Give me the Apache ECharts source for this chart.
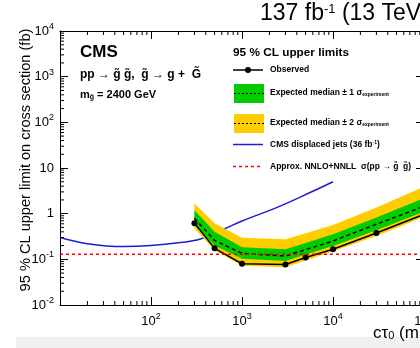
<!DOCTYPE html>
<html>
<head>
<meta charset="utf-8">
<script src="https://cdn.jsdelivr.net/npm/echarts@6/dist/echarts.min.js"></script>
<style>
  html, body { margin: 0; padding: 0; background: #fff; }
  #chart { width: 420px; height: 348px; }
</style>
</head>
<body>
<div id="chart"></div>
<script>
// limits vs proper decay length, m(gluino) = 2400 GeV
const ctau      = [300, 500, 1000, 3000, 5000, 10000, 30000, 100000];
const observed  = [0.62, 0.174, 0.080, 0.077, 0.110, 0.166, 0.377, 0.97];
const expected  = [0.79, 0.26, 0.135, 0.118, 0.163, 0.252, 0.586, 1.45];
const exp1Up    = [1.19, 0.40, 0.183, 0.166, 0.229, 0.353, 0.82, 2.2];
const exp1Down  = [0.56, 0.20, 0.103, 0.092, 0.127, 0.196, 0.432, 1.1];
const exp2Up    = [1.67, 0.62, 0.296, 0.275, 0.373, 0.565, 1.36, 3.9];
const exp2Down  = [0.48, 0.158, 0.072, 0.067, 0.094, 0.150, 0.324, 0.85];

// CMS displaced jets (36 fb-1)
const djCtau  = [10, 20, 50, 100, 200, 350, 620, 1000, 2400, 5600, 10000];
const djLimit = [0.30, 0.22, 0.19, 0.20, 0.23, 0.28, 0.45, 0.69, 1.36, 2.9, 5.0];

// theory cross section
const xsecCtau = [10, 100000];
const xsec     = [0.13, 0.13];

// axis ranges
const xMin = 10, xMax = 100000;
const yMin = 0.01, yMax = 10000;

const FONT = '"Liberation Sans", Arial, sans-serif';
const GREEN = '#00cc00';
const YELLOW = '#ffcc00';

// minor ticks 2..9 in every decade
function minors(lo, hi) {
  const out = [];
  for (let d = lo; d < hi; d *= 10) {
    for (let k = 2; k <= 9; k++) out.push(d * k);
  }
  return out;
}
const xMinor = minors(xMin, xMax);
const yMinor = minors(yMin, yMax);

function powLabel(v, hideTen) {
  const e = Math.round(Math.log10(v));
  if (e === 0) return '{b|1}';
  if (e === 1) return hideTen ? '' : '{b|10}';
  return '{b|10}{s|' + e + '}';
}
const labelRich = {
  b: { fontSize: 13, fontFamily: FONT, color: '#000', lineHeight: 18 },
  s: { fontSize: 9, fontFamily: FONT, color: '#000', lineHeight: 10, verticalAlign: 'top' }
};

const chart = echarts.init(document.getElementById('chart'));

function bandItem(up, down, color) {
  return function (params, api) {
    if (params.dataIndex !== 0) return;
    const pts = [];
    for (let i = 0; i < ctau.length; i++) pts.push(api.coord([ctau[i], up[i]]));
    for (let i = ctau.length - 1; i >= 0; i--) pts.push(api.coord([ctau[i], down[i]]));
    return { type: 'polygon', shape: { points: pts }, style: { fill: color } };
  };
}

function logAxis(pos, min, max) {
  return {
    type: 'log', logBase: 10, position: pos, min: min, max: max,
    axisLine: { show: true, lineStyle: { color: '#000', width: 1 } },
    axisTick: { show: true, inside: true, length: 8, lineStyle: { color: '#000' } },
    splitLine: { show: false },
    axisLabel: { show: false }
  };
}

const xBottom = logAxis('bottom', xMin, xMax);
xBottom.axisLabel = { show: true, margin: 7, formatter: v => powLabel(v, true), rich: labelRich };
const yLeft = logAxis('left', yMin, yMax);
yLeft.axisLabel = { show: true, margin: 6, formatter: v => powLabel(v, false), rich: labelRich };

const legendSub = { fontSize: 5, fontFamily: FONT, fontWeight: 'bold', fill: '#000', lineHeight: 5, verticalAlign: 'bottom' };

chart.setOption({
  animation: false,
  backgroundColor: '#fff',
  grid: { left: 60, top: 31, width: 364, height: 274, outerBoundsMode: 'none', containLabel: false },
  xAxis: [xBottom, logAxis('top', xMin, xMax)],
  yAxis: [yLeft, logAxis('right', yMin, yMax)],
  series: [
    {
      name: 'CMS displaced jets', type: 'line', smooth: 0.4,
      data: djCtau.map((x, i) => [x, djLimit[i]]),
      showSymbol: false, lineStyle: { color: '#1c1cd6', width: 1.5 }, z: 2
    },
    {
      type: 'custom', renderItem: bandItem(exp2Up, exp2Down, YELLOW),
      data: [[ctau[0], exp2Up[0]]], silent: true, z: 3
    },
    {
      type: 'custom', renderItem: bandItem(exp1Up, exp1Down, GREEN),
      data: [[ctau[0], exp1Up[0]]], silent: true, z: 4
    },
    {
      name: 'Expected', type: 'line', data: ctau.map((x, i) => [x, expected[i]]),
      showSymbol: false, lineStyle: { color: '#000', width: 1.5, type: [4, 3] }, z: 5
    },
    {
      name: 'Observed', type: 'line', data: ctau.map((x, i) => [x, observed[i]]),
      symbol: 'circle', symbolSize: 6, itemStyle: { color: '#000' },
      lineStyle: { color: '#000', width: 1.5 }, z: 6
    },
    {
      name: 'NNLO+NNLL', type: 'line', data: xsecCtau.map((x, i) => [x, xsec[i]]),
      showSymbol: false, lineStyle: { color: '#ff0000', width: 1.5, type: [3, 3] }, z: 7
    },
    {
      // minor ticks on x (bottom and top)
      type: 'custom', silent: true, z: 8,
      data: xMinor.map(v => [v, yMin]),
      renderItem: function (params, api) {
        const v = api.value(0);
        const b = api.coord([v, yMin]);
        const t = api.coord([v, yMax]);
        const st = { stroke: '#000', lineWidth: 1 };
        return { type: 'group', children: [
          { type: 'line', shape: { x1: b[0], y1: b[1], x2: b[0], y2: b[1] - 4 }, style: st },
          { type: 'line', shape: { x1: t[0], y1: t[1], x2: t[0], y2: t[1] + 4 }, style: st }
        ] };
      }
    },
    {
      // minor ticks on y (left and right)
      type: 'custom', silent: true, z: 8,
      data: yMinor.map(v => [xMin, v]),
      renderItem: function (params, api) {
        const v = api.value(1);
        const l = api.coord([xMin, v]);
        const r = api.coord([xMax, v]);
        const st = { stroke: '#000', lineWidth: 1 };
        return { type: 'group', children: [
          { type: 'line', shape: { x1: l[0], y1: l[1], x2: l[0] + 4, y2: l[1] }, style: st },
          { type: 'line', shape: { x1: r[0], y1: r[1], x2: r[0] - 4, y2: r[1] }, style: st }
        ] };
      }
    }
  ],
  graphic: [
    { type: 'rect', shape: { x: 16, y: 337, width: 410, height: 12 }, style: { fill: '#f0f0f0' }, z: -1 },
    { type: 'text', x: 260, y: 14, style: {
        text: '137 fb{s|-1} (13 TeV)', fill: '#000', font: '23px ' + FONT, verticalAlign: 'middle',
        rich: { s: { fontSize: 13, fontFamily: FONT, fill: '#000', lineHeight: 12, verticalAlign: 'top' } } } },
    { type: 'text', x: 26, y: 160, rotation: Math.PI / 2, style: {
        text: '95 % CL upper limit on cross section (fb)', fill: '#000', font: '14.6px ' + FONT,
        align: 'center', verticalAlign: 'middle' } },
    { type: 'text', x: 373, y: 333, style: {
        text: 'cτ{s|0} (mm)', fill: '#000', font: '17px ' + FONT, verticalAlign: 'middle',
        rich: { s: { fontSize: 11, fontFamily: FONT, fill: '#000', lineHeight: 10, verticalAlign: 'bottom' } } } },
    { type: 'text', x: 80, y: 52, style: { text: 'CMS', fill: '#000', font: 'bold 17px ' + FONT, verticalAlign: 'middle' } },
    { type: 'text', x: 80, y: 75, style: { text: 'pp → g̃ g̃,  g̃ → g +  G̃', fill: '#000', font: 'bold 12px ' + FONT, verticalAlign: 'middle' } },
    { type: 'text', x: 80, y: 95, style: {
        text: 'm{s|g̃} = 2400 GeV', fill: '#000', font: 'bold 11px ' + FONT, verticalAlign: 'middle',
        rich: { s: { fontSize: 7, fontFamily: FONT, fontWeight: 'bold', fill: '#000', lineHeight: 7, verticalAlign: 'bottom' } } } },

    // legend
    { type: 'text', x: 233, y: 53, style: { text: '95 % CL upper limits', fill: '#000', font: 'bold 11.8px ' + FONT, verticalAlign: 'middle' } },
    { type: 'line', shape: { x1: 233, y1: 70, x2: 263, y2: 70 }, style: { stroke: '#000', lineWidth: 1.5 } },
    { type: 'circle', shape: { cx: 248, cy: 70, r: 3 }, style: { fill: '#000' } },
    { type: 'text', x: 270, y: 70, style: { text: 'Observed', fill: '#000', font: 'bold 8.5px ' + FONT, verticalAlign: 'middle' } },
    { type: 'rect', shape: { x: 234, y: 84, width: 30, height: 19 }, style: { fill: GREEN } },
    { type: 'line', shape: { x1: 234, y1: 93.5, x2: 264, y2: 93.5 }, style: { stroke: '#000', lineWidth: 1, lineDash: [2, 2] } },
    { type: 'text', x: 270, y: 93, style: {
        text: 'Expected median ± 1 σ{s|experiment}', fill: '#000', font: 'bold 8.5px ' + FONT, verticalAlign: 'middle',
        rich: { s: legendSub } } },
    { type: 'rect', shape: { x: 234, y: 114, width: 30, height: 19 }, style: { fill: YELLOW } },
    { type: 'line', shape: { x1: 234, y1: 123.5, x2: 264, y2: 123.5 }, style: { stroke: '#000', lineWidth: 1, lineDash: [2, 2] } },
    { type: 'text', x: 270, y: 123, style: {
        text: 'Expected median ± 2 σ{s|experiment}', fill: '#000', font: 'bold 8.5px ' + FONT, verticalAlign: 'middle',
        rich: { s: legendSub } } },
    { type: 'line', shape: { x1: 233, y1: 144.5, x2: 263, y2: 144.5 }, style: { stroke: '#1c1cd6', lineWidth: 1.5 } },
    { type: 'text', x: 270, y: 144.5, style: {
        text: 'CMS displaced jets (36 fb{s|-1})', fill: '#000', font: 'bold 8.5px ' + FONT, verticalAlign: 'middle',
        rich: { s: Object.assign({}, legendSub, { verticalAlign: 'top' }) } } },
    { type: 'line', shape: { x1: 233, y1: 166.5, x2: 263, y2: 166.5 }, style: { stroke: '#ff0000', lineWidth: 1.5, lineDash: [3, 3] } },
    { type: 'text', x: 270, y: 166.5, style: {
        text: 'Approx. NNLO+NNLL  σ(pp → g̃  g̃)', fill: '#000', font: 'bold 8.5px ' + FONT, verticalAlign: 'middle' } }
  ]
});
</script>
</body>
</html>
